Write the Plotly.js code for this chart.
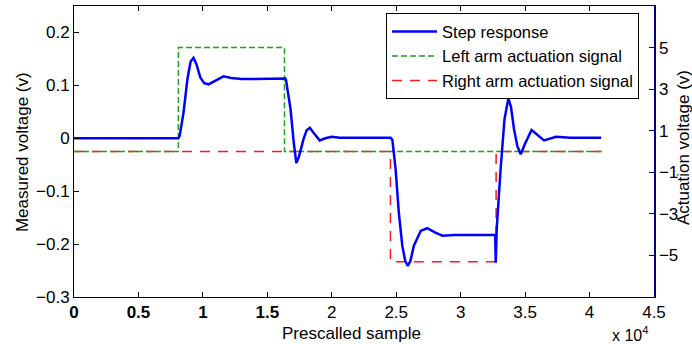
<!DOCTYPE html>
<html>
<head>
<meta charset="utf-8">
<script src="https://cdn.plot.ly/plotly-3.0.1.min.js"></script>
<style>html,body{margin:0;padding:0;background:#fff;}#chart{width:692px;height:344px;}</style>
</head>
<body>
<div id="chart"></div>
<script>
// Step response (left axis, volts), sample index
const stepX = [0, 4000, 8100, 8200, 8500, 8800, 9050, 9270, 9500, 9800, 10100, 10440, 11000, 11600, 12200, 13000, 14000, 15000, 16400,
  16450, 16800, 17050, 17250, 17450, 17800, 18050, 18300, 18600, 19060, 19500, 20000, 20600, 22000, 23500, 24560,
  24700, 24950, 25200, 25470, 25700, 25900, 26100, 26370, 26900, 27400, 28000, 28580, 29500, 31000, 32680,
  32720, 32800, 33100, 33400, 33700, 33900, 34140, 34400, 34660, 35000, 35500, 36000, 36470, 37400, 38500, 40900];
const stepY = [0, 0, 0, 0.005, 0.049, 0.112, 0.145, 0.152, 0.140, 0.115, 0.104, 0.102, 0.110, 0.117, 0.114, 0.112, 0.112, 0.112, 0.113,
  0.110, 0.055, -0.008, -0.047, -0.035, -0.002, 0.015, 0.020, 0.010, -0.004, 0.000, 0.003, 0.001, 0.001, 0.001, 0.001,
  -0.003, -0.058, -0.140, -0.203, -0.232, -0.241, -0.232, -0.203, -0.175, -0.170, -0.178, -0.184, -0.183, -0.183, -0.183,
  -0.235, -0.170, -0.058, 0.036, 0.075, 0.060, 0.017, -0.015, -0.030, -0.010, 0.0157, 0.005, -0.004, 0.003, 0.001, 0.001];

// Actuation signals (right axis, volts)
const leftArmX = [0, 8100, 8100, 16330, 16330, 41000];
const leftArmY = [0, 0, 5, 5, 0, 0];
const rightArmX = [0, 24550, 24550, 32750, 32750, 41000];
const rightArmY = [0, 0, -5.3, -5.3, 0, 0];

// Tick labels
const xTickVals = [0, 5000, 10000, 15000, 20000, 25000, 30000, 35000, 40000, 45000];
const xTickText = ['<b>0</b>', '<b>0.5</b>', '<b>1</b>', '<b>1.5</b>', '2', '2.5', '3', '3.5', '4', '4.5'];
const leftTickVals = [-0.3, -0.2, -0.1, 0, 0.1, 0.2];
const leftTickText = ['\u22120.3', '\u22120.2', '\u22120.1', '0', '0.1', '0.2'];
const rightTickVals = [-5, -3, -1, 1, 3, 5];
const rightTickText = ['\u22125', '\u22123', '\u22121', '1', '3', '5'];

const FONT = 'Liberation Sans, Arial, Helvetica, sans-serif';

const traces = [
  {x: rightArmX, y: rightArmY, type: 'scatter', mode: 'lines', name: 'Right arm actuation signal',
   yaxis: 'y', legendrank: 3, line: {color: '#ff1a1a', width: 1.5, dash: '10px,8px'}},
  {x: leftArmX, y: leftArmY, type: 'scatter', mode: 'lines', name: 'Left arm actuation signal',
   yaxis: 'y', legendrank: 2, line: {color: '#1f9f1f', width: 1.5, dash: '6px,3px'}},
  {x: stepX, y: stepY, type: 'scatter', mode: 'lines', name: 'Step response',
   yaxis: 'y2', legendrank: 1, line: {color: '#0000ff', width: 2.5}}
];

const layout = {
  width: 692, height: 344,
  margin: {l: 74, r: 38, t: 6, b: 47, pad: 0},
  paper_bgcolor: '#ffffff', plot_bgcolor: '#ffffff',
  font: {family: FONT, size: 17, color: '#000'},
  showlegend: true,
  legend: {x: 0.538, y: 0.975, xanchor: 'left', yanchor: 'top', bgcolor: '#fff',
           bordercolor: '#000', borderwidth: 1, font: {family: FONT, size: 16.5, color: '#000'},
           traceorder: 'normal', itemwidth: 45},
  xaxis: {range: [0, 45000], tickvals: xTickVals, ticktext: xTickText, ticks: 'inside', ticklen: 5,
          tickcolor: '#000', showline: true, linecolor: '#000', linewidth: 1, mirror: 'ticks',
          showgrid: false, zeroline: false, tickfont: {family: FONT, size: 17, color: '#000'}},
  yaxis: {range: [-7, 7], side: 'right', tickvals: rightTickVals, ticktext: rightTickText,
          ticks: 'inside', ticklen: 5, tickcolor: '#00007f', showline: true, linecolor: '#00007f', linewidth: 1.5,
          showgrid: false, zeroline: false, tickfont: {family: FONT, size: 17, color: '#000'}},
  yaxis2: {range: [-0.3, 0.25], side: 'left', overlaying: 'y', tickvals: leftTickVals, ticktext: leftTickText,
           ticks: 'inside', ticklen: 5, tickcolor: '#000', showline: true, linecolor: '#000', linewidth: 1,
           showgrid: false, zeroline: false, tickfont: {family: FONT, size: 17, color: '#000'}},
  annotations: [
    {text: 'Measured voltage (v)', xref: 'paper', yref: 'paper', x: -0.0897, y: 0.498, textangle: -90,
     showarrow: false, xanchor: 'center', yanchor: 'middle', font: {family: FONT, size: 17, color: '#000'}},
    {text: 'Actuation voltage (v)', xref: 'paper', yref: 'paper', x: 1.05, y: 0.512, textangle: -90,
     showarrow: false, xanchor: 'center', yanchor: 'middle', font: {family: FONT, size: 17, color: '#000'}},
    {text: 'Prescalled sample', xref: 'paper', yref: 'paper', x: 0.479, y: -0.125,
     showarrow: false, xanchor: 'center', yanchor: 'middle', font: {family: FONT, size: 17, color: '#000'}},
    {text: 'x 10<sup>4</sup>', xref: 'paper', yref: 'paper', x: 0.958, y: -0.128,
     showarrow: false, xanchor: 'center', yanchor: 'middle', font: {family: FONT, size: 16, color: '#000'}}
  ]
};

Plotly.newPlot('chart', traces, layout, {displayModeBar: false, staticPlot: true});
</script>
</body>
</html>
